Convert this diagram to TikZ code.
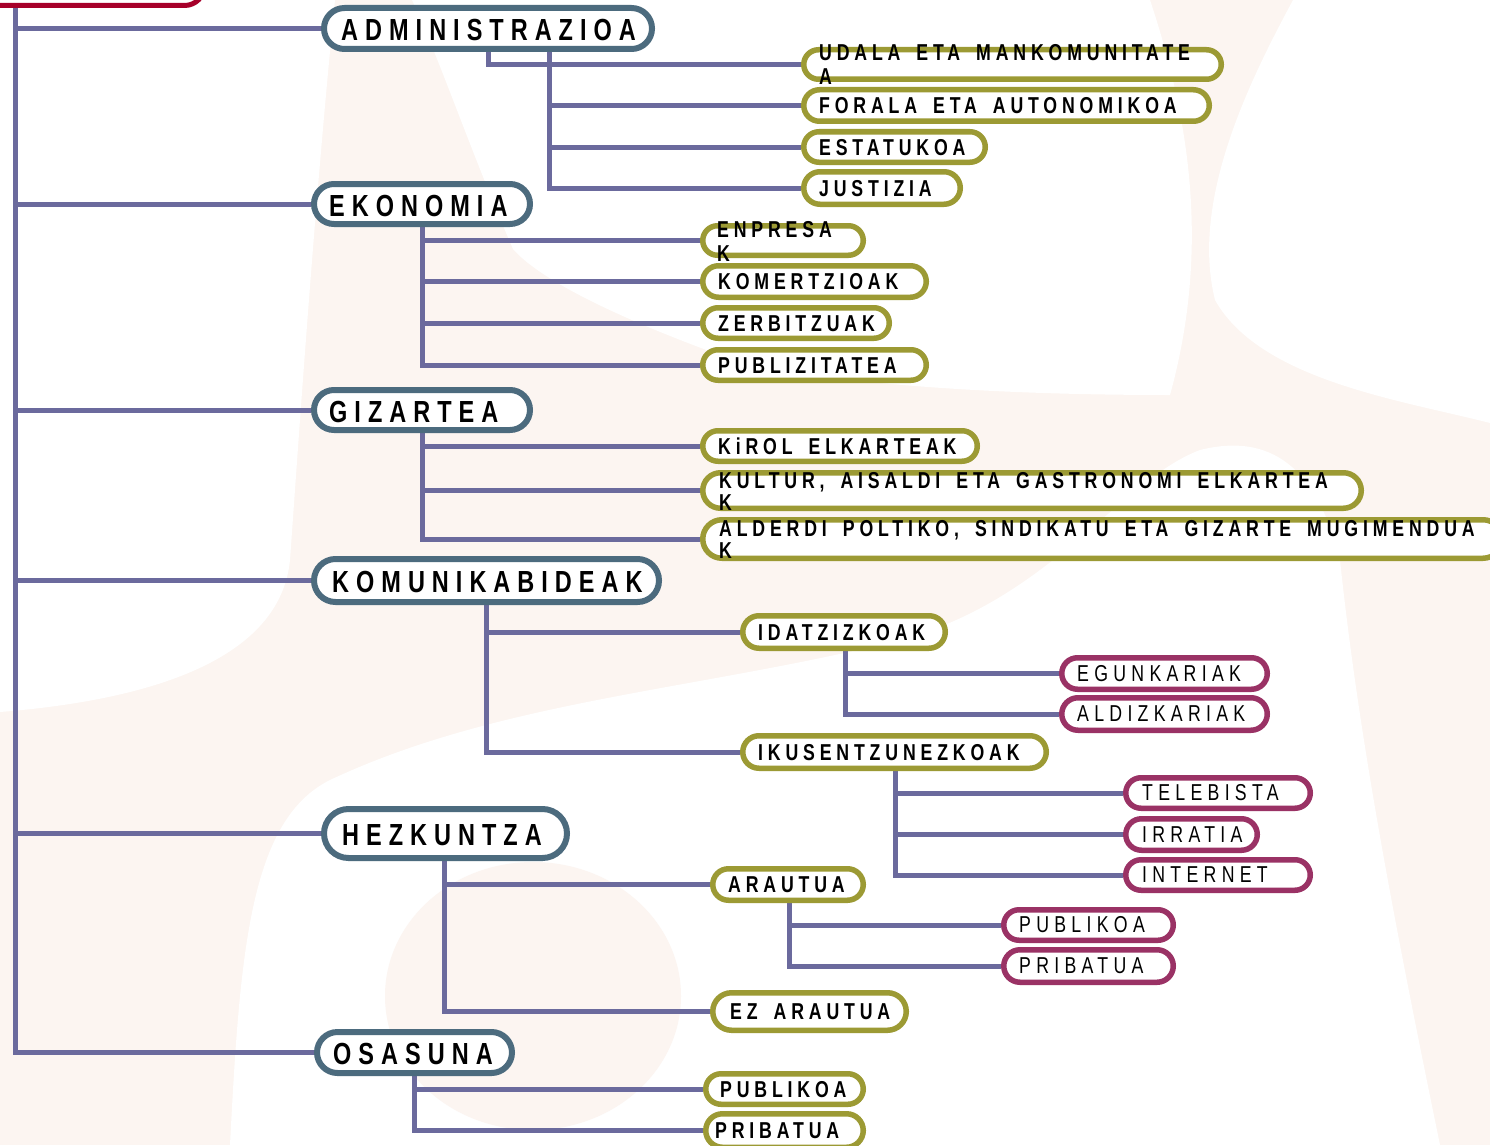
\documentclass[tikz,border=0pt]{standalone}
\usepackage{fontspec}
\setmainfont{Liberation Sans}
\newfontfamily\fA[FakeStretch=0.77,LetterSpace=23]{Liberation Sans}
\newfontfamily\fB[FakeStretch=0.77,LetterSpace=21]{Liberation Sans}
\newfontfamily\fC[FakeStretch=0.77,LetterSpace=23]{Liberation Sans}
\newcommand\ws{\hspace{16pt}}
\definecolor{cA}{HTML}{4C6B7E}
\definecolor{cB}{HTML}{9C9A34}
\definecolor{cC}{HTML}{9A3265}
\definecolor{cL}{HTML}{6B6A9D}
\definecolor{cR}{HTML}{A6002A}
\definecolor{bgc}{HTML}{FCF5F1}
\pgfdeclarelayer{bg}
\pgfsetlayers{bg,main}
\tikzset{
  conn/.style={draw=cL, line width=5pt, line join=miter},
  sz/.style 2 args={minimum width=#1, minimum height=#2, rounded corners=#2/2},
  bA/.style={rectangle, draw=cA, line width=6pt, fill=white, inner sep=0pt},
  bB/.style={rectangle, draw=cB, line width=5.5pt, fill=white, inner sep=0pt},
  bC/.style={rectangle, draw=cC, line width=5.5pt, fill=white, inner sep=0pt},
  txt/.style={anchor=base west, inner sep=0pt, text width=800pt, align=left},
  tA/.style={txt, font=\fA\bfseries\fontsize{30.5}{36}\selectfont},
  tB/.style={txt, font=\fB\bfseries\fontsize{23}{22}\selectfont},
  tC/.style={txt, font=\fC\fontsize{23}{22}\selectfont},
}
\begin{document}
\begin{tikzpicture}[x=1pt,y=-1pt]
\useasboundingbox (0,0) rectangle (1490,1145);

% boxes
\node[rectangle, draw=cR, line width=5pt, fill=white, minimum width=232, minimum height=63, rounded corners=20] (head) at (88.5,-26) {};

\node[bA, sz={328}{41}] (adm) at (488,28.5) {};
\node[bA, sz={216}{40}] (eko) at (422,204) {};
\node[bA, sz={216}{40}] (giz) at (422,410) {};
\node[bA, sz={345}{43}] (kom) at (486.5,580.5) {};
\node[bA, sz={243}{49}] (hez) at (445.5,833.5) {};
\node[bA, sz={195}{41}] (osa) at (414.5,1052.5) {};

\node[bB, sz={417.5}{29.5}] (udala) at (1012.5,64.5) {};
\node[bB, sz={405.5}{31.5}] (fora) at (1006.5,105.5) {};
\node[bB, sz={181.5}{30.5}] (esta) at (894.5,147) {};
\node[bB, sz={156.5}{32.5}] (just) at (882,188) {};
\node[bB, sz={160.5}{29.5}] (enpr) at (783,240.5) {};
\node[bB, sz={223.5}{31.5}] (kome) at (814.5,281.5) {};
\node[bB, sz={186.5}{30.5}] (zerb) at (796,323) {};
\node[bB, sz={223.5}{30.5}] (publ) at (814.5,365) {};
\node[bB, sz={274.5}{30.5}] (kiro) at (840,446) {};
\node[bB, sz={658.5}{35.5}] (kult) at (1032,490.5) {};
\node[bB, sz={799.5}{38.5}] (alde) at (1102.5,539) {};
\node[bB, sz={202.5}{32.5}] (idat) at (844,632) {};
\node[bB, sz={303.5}{32.5}] (ikus) at (894.5,752) {};
\node[bB, sz={150.5}{31.5}] (arau) at (788,884.5) {};
\node[bB, sz={193.5}{37.5}] (ezar) at (809.5,1011.5) {};
\node[bB, sz={157.5}{30.5}] (opub) at (784.5,1089) {};
\node[bB, sz={157.5}{33.5}] (opri) at (784.5,1130.5) {};

\node[bC, sz={205.5}{31.5}] (egun) at (1164.5,673.5) {};
\node[bC, sz={205.5}{32.5}] (aldi) at (1164.5,714) {};
\node[bC, sz={184.5}{30.5}] (tele) at (1218,793) {};
\node[bC, sz={131.5}{31.5}] (irra) at (1191.5,834.5) {};
\node[bC, sz={184.5}{30.5}] (inte) at (1218,875) {};
\node[bC, sz={169.5}{30.5}] (ppub) at (1088.5,925) {};
\node[bC, sz={169.5}{32.5}] (ppri) at (1088.5,966) {};

% texts
\node[tA] (tAdm) at (341,40.5) {ADMINISTRAZIOA};
\node[tA] (tEko) at (329,216) {EKONOMIA};
\node[tA] (tGiz) at (329,422) {GIZARTEA};
\node[tA] (tKom) at (332,592.5) {KOMUNIKABIDEAK};
\node[tA] (tHez) at (342,845.5) {HEZKUNTZA};
\node[tA] (tOsa) at (333,1064.5) {OSASUNA};

\node[tB] (tUdala) at (819,61) {UDALA\ws ETA\ws MANKOMUNITATE\\[2pt]A};
\node[tB] (tFora) at (819,113.5) {FORALA\ws ETA\ws AUTONOMIKOA};
\node[tB] (tEsta) at (819,155) {ESTATUKOA};
\node[tB] (tJust) at (819,196) {JUSTIZIA};
\node[tB] (tEnpr) at (717,237.5) {ENPRESA\\[2pt]K};
\node[tB] (tKome) at (718,289.5) {KOMERTZIOAK};
\node[tB] (tZerb) at (718,331) {ZERBITZUAK};
\node[tB] (tPubl) at (718,373) {PUBLIZITATEA};
\node[tB] (tKiro) at (718,454) {KiROL\ws ELKARTEAK};
\node[tB] (tKult) at (719,488) {KULTUR,\ws AISALDI\ws ETA\ws GASTRONOMI\ws ELKARTEA\\K};
\node[tB] (tAlde) at (719,536) {ALDERDI\ws POLTIKO,\ws SINDIKATU\ws ETA\ws GIZARTE\ws MUGIMENDUA\\K};
\node[tB] (tIdat) at (758,640) {IDATZIZKOAK};
\node[tB] (tIkus) at (758,760) {IKUSENTZUNEZKOAK};
\node[tB] (tArau) at (728,892.5) {ARAUTUA};
\node[tB] (tEzar) at (730,1019.5) {EZ\ws ARAUTUA};
\node[tB] (tOpub) at (720,1097) {PUBLIKOA};
\node[tB] (tOpri) at (715,1138.5) {PRIBATUA};

\node[tC] (tEgun) at (1077,681) {EGUNKARIAK};
\node[tC] (tAldi) at (1077,721.5) {ALDIZKARIAK};
\node[tC] (tTele) at (1142,800.5) {TELEBISTA};
\node[tC] (tIrra) at (1142,842) {IRRATIA};
\node[tC] (tInte) at (1142,882.5) {INTERNET};
\node[tC] (tPpub) at (1019,932.5) {PUBLIKOA};
\node[tC] (tPpri) at (1019,973.5) {PRIBATUA};

% trunk x positions
\coordinate (xRoot) at (15,0);
\coordinate (xAdm) at (549,0);
\coordinate (xAdmU) at (488,0);
\coordinate (xEko) at (422,0);
\coordinate (xGiz) at (422,0);
\coordinate (xKom) at (486,0);
\coordinate (xHez) at (444,0);
\coordinate (xOsa) at (414,0);
\coordinate (xIdat) at (845,0);
\coordinate (xIkus) at (895,0);
\coordinate (xArau) at (789,0);

\begin{pgfonlayer}{bg}
% faint background shapes
\fill[bgc] (0,0) rectangle (1490,1145);
\fill[white] (0,0) -- (335,0) .. controls (315,200) and (300,420) .. (290,560)
  .. controls (280,660) and (150,700) .. (0,712) -- cycle;
\fill[white] (412,0) -- (1150,0) .. controls (1190,120) and (1210,250) .. (1170,395)
  .. controls (1000,395) and (850,385) .. (745,364)
  .. controls (620,320) and (540,280) .. (513,249)
  .. controls (470,150) and (440,60) .. (412,0) -- cycle;
\fill[white] (1293,0) -- (1490,0) -- (1490,423) .. controls (1400,400) and (1260,380) .. (1215,300)
  .. controls (1190,200) and (1250,80) .. (1293,0) -- cycle;
\fill[white] (230,1145) .. controls (240,950) and (250,820) .. (330,780)
  .. controls (500,700) and (700,690) .. (900,640)
  .. controls (1050,600) and (1120,480) .. (1200,450)
  .. controls (1280,430) and (1320,480) .. (1340,560)
  .. controls (1360,750) and (1400,950) .. (1440,1145) -- cycle;
\fill[bgc] (533,996) ellipse [x radius=148, y radius=134];

% connectors
\draw[conn] (head.south -| xRoot) |- (adm.west);
\draw[conn] (head.south -| xRoot) |- (eko.west);
\draw[conn] (head.south -| xRoot) |- (giz.west);
\draw[conn] (head.south -| xRoot) |- (kom.west);
\draw[conn] (head.south -| xRoot) |- (hez.west);
\draw[conn] (head.south -| xRoot) |- (osa.west);

\draw[conn] (adm.south -| xAdmU) |- (udala.west);
\draw[conn] (adm.south -| xAdm) |- (fora.west);
\draw[conn] (adm.south -| xAdm) |- (esta.west);
\draw[conn] (adm.south -| xAdm) |- (just.west);

\draw[conn] (eko.south -| xEko) |- (enpr.west);
\draw[conn] (eko.south -| xEko) |- (kome.west);
\draw[conn] (eko.south -| xEko) |- (zerb.west);
\draw[conn] (eko.south -| xEko) |- (publ.west);

\draw[conn] (giz.south -| xGiz) |- (kiro.west);
\draw[conn] (giz.south -| xGiz) |- (kult.west);
\draw[conn] (giz.south -| xGiz) |- (alde.west);

\draw[conn] (kom.south -| xKom) |- (idat.west);
\draw[conn] (kom.south -| xKom) |- (ikus.west);
\draw[conn] (idat.south -| xIdat) |- (egun.west);
\draw[conn] (idat.south -| xIdat) |- (aldi.west);
\draw[conn] (ikus.south -| xIkus) |- (tele.west);
\draw[conn] (ikus.south -| xIkus) |- (irra.west);
\draw[conn] (ikus.south -| xIkus) |- (inte.west);

\draw[conn] (hez.south -| xHez) |- (arau.west);
\draw[conn] (hez.south -| xHez) |- (ezar.west);
\draw[conn] (arau.south -| xArau) |- (ppub.west);
\draw[conn] (arau.south -| xArau) |- (ppri.west);

\draw[conn] (osa.south -| xOsa) |- (opub.west);
\draw[conn] (osa.south -| xOsa) |- (opri.west);
\end{pgfonlayer}
\end{tikzpicture}
\end{document}
